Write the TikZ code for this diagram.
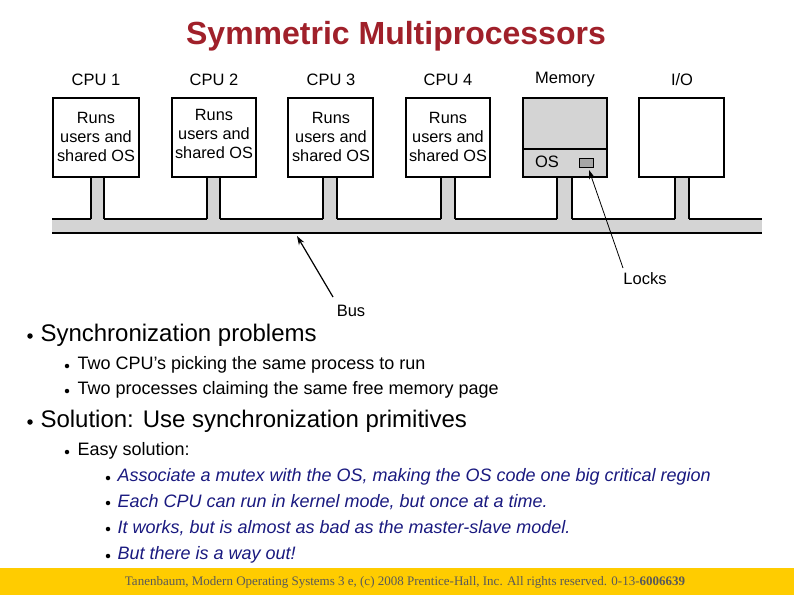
\documentclass[tikz,border=0pt]{standalone}
\usetikzlibrary{arrows.meta}
\usepackage{fontspec}
\setmainfont{Liberation Sans}
\newfontfamily\serifft{Liberation Serif}
\definecolor{ttl}{HTML}{A0202A}
\definecolor{navy}{HTML}{1A1A80}
\definecolor{band}{HTML}{FFCC00}
\definecolor{busg}{HTML}{D4D4D4}
\begin{document}
\begin{tikzpicture}[x=1pt,y=-1pt,
  box/.style={draw=black,line width=1.2pt,fill=white},
  lbl/.style={font=\fontsize{16.5}{16}\selectfont,anchor=center},
  inner/.style={font=\fontsize{16.3}{19}\selectfont,align=center},
  dot/.style={circle,fill=black,inner sep=0pt,minimum size=5.5pt},
  sdot/.style={circle,fill=black,inner sep=0pt,minimum size=4.5pt},
  lvl1/.style={anchor=west,font=\fontsize{24}{24}\selectfont},
  lvl2/.style={anchor=west,font=\fontsize{18}{18}\selectfont},
  lvl3/.style={anchor=west,font=\fontsize{18}{18}\selectfont\itshape,text=navy}]
\useasboundingbox (0,0) rectangle (794,595);
\fill[white] (0,0) rectangle (794,595);
\fill[band] (0,568) rectangle (794,595);
\node[font=\fontsize{32}{32}\selectfont\bfseries,text=ttl] (title) at (396,36) {Symmetric Multiprocessors};
% bus
\fill[busg] (52,219) rectangle (762,233);
\foreach \a/\b in {91/104,207/220,323/337,441/455,557/572,675/689}{
  \fill[busg] (\a,176) rectangle (\b,220);
  \draw[line width=1.2pt] (\a,176) -- (\a,219);
  \draw[line width=1.2pt] (\b,176) -- (\b,219);
}
\draw[line width=1.2pt] (52,219) -- (91,219) (104,219) -- (207,219) (220,219) -- (323,219) (337,219) -- (441,219) (455,219) -- (557,219) (572,219) -- (675,219) (689,219) -- (762,219);
\draw[line width=1.2pt] (52,233) -- (762,233);
% boxes
\foreach \n/\a/\b in {c1/53/139,c2/172/256,c3/288/373,c4/406/490,io/639/724}{
  \draw[box] (\a,98) rectangle (\b,177);
  \coordinate (\n) at ({(\a+\b)/2},98);
}
\draw[box,fill=busg] (523,98) rectangle (607,177);
\draw[line width=1.2pt] (523,149) -- (607,149);
\node[lbl] (os) at (547,162) {OS};
\draw[line width=1pt,fill=gray!70] (579,158) rectangle (593,167);
\coordinate (lock) at (589,170);
\foreach \n/\x/\t in {l1/96/CPU 1,l2/214/CPU 2,l3/331/CPU 3,l4/448/CPU 4,lm/565/Memory,lio/682/{I/O}}{
  \node[lbl] (\n) at (\x,80) {\t};
}
\node[inner] (t1) at (96,137) {Runs\\users and\\shared OS};
\node[inner] (t2) at (214,134) {Runs\\users and\\shared OS};
\node[inner] (t3) at (331,137) {Runs\\users and\\shared OS};
\node[inner] (t4) at (448,137) {Runs\\users and\\shared OS};
\node[lbl] (bus) at (351,311) {Bus};
\node[lbl] (locks) at (645,279) {Locks};
\coordinate (bustip) at (297,236);
\draw[line width=1.2pt,-{Stealth[length=9pt,width=6pt]}] (333,297) -- (bustip);
\draw[line width=0.8pt,-{Stealth[length=9pt,width=6pt]}] (623,268) -- (lock);
% text
\node[dot] (d1) at (30,336) {}; \node[lvl1] (b1) at (37,335) {Synchronization problems};
\node[sdot] (d2) at (67,366) {}; \node[lvl2] (b2) at (74,365) {Two CPU’s picking the same process to run};
\node[sdot] (d3) at (67,391) {}; \node[lvl2] (b3) at (74,390) {Two processes claiming the same free memory page};
\node[dot] (d4) at (30,422) {}; \node[lvl1] (b4) at (37,421) {Solution: Use synchronization primitives};
\node[sdot] (d5) at (67,452) {}; \node[lvl2] (b5) at (74,451) {Easy solution:};
\node[sdot] (d6) at (108,478) {}; \node[lvl3] (b6) at (114,477) {Associate a mutex with the OS, making the OS code one big critical region};
\node[sdot] (d7) at (108,503) {}; \node[lvl3] (b7) at (114,502) {Each CPU can run in kernel mode, but once at a time.};
\node[sdot] (d8) at (108,529) {}; \node[lvl3] (b8) at (114,528) {It works, but is almost as bad as the master-slave model.};
\node[sdot] (d9) at (108,556) {}; \node[lvl3] (b9) at (114,555) {But there is a way out!};
\node[font=\serifft\fontsize{13}{13}\selectfont,text=gray!70!black] (foot) at (405,582) {Tanenbaum, Modern Operating Systems 3 e, (c) 2008 Prentice-Hall, Inc. All rights reserved. 0-13-\textbf{6006639}};
\end{tikzpicture}
\end{document}
